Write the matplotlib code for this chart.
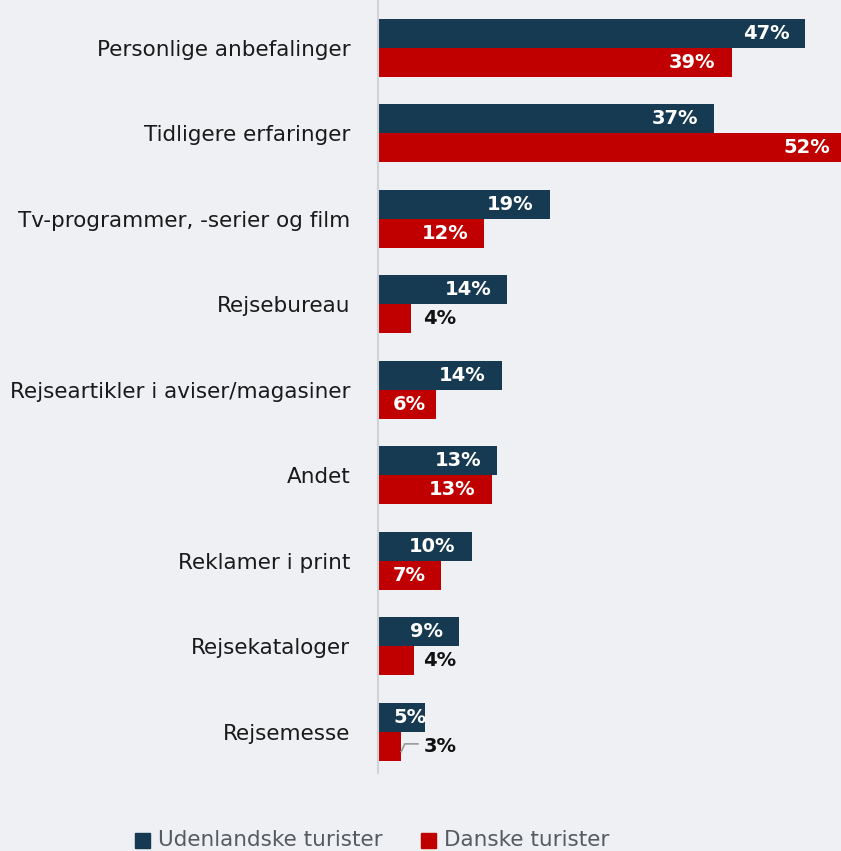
import matplotlib
matplotlib.use("Agg")
import matplotlib.pyplot as plt
from matplotlib.patches import Rectangle

categories = ["Personlige anbefalinger", "Tidligere erfaringer", "Tv-programmer, -serier og film",
              "Rejsebureau", "Rejseartikler i aviser/magasiner", "Andet", "Reklamer i print",
              "Rejsekataloger", "Rejsemesse"]
# bar lengths (percent)
udenlandske = [47.0, 37.0, 18.9, 14.2, 13.6, 13.1, 10.3, 8.9, 5.2]
danske = [38.9, 52.0, 11.7, 3.6, 6.4, 12.5, 6.9, 4.0, 2.5]
# printed labels (percent)
udenlandske_labels = [47, 37, 19, 14, 14, 13, 10, 9, 5]
danske_labels = [39, 52, 12, 4, 6, 13, 7, 4, 3]
series_names = ["Udenlandske turister", "Danske turister"]

NAVY = "#163a52"
RED = "#c00000"
BG = "#eef0f3"
FONT = "DejaVu Sans"

W, H = 841, 851
fig = plt.figure(figsize=(W / 100, H / 100), dpi=100)
fig.patch.set_facecolor(BG)
ax = fig.add_axes([378 / W, 1 - 773 / H, 1 - 378 / W, 773 / H])
ax.set_facecolor(BG)

h = 0.339
ys = list(range(len(categories)))
ax.barh([y - h / 2 for y in ys], udenlandske, height=h, color=NAVY, edgecolor="none")
ax.barh([y + h / 2 for y in ys], danske, height=h, color=RED, edgecolor="none")

xmax = (W - 378) / 9.09
ax.set_xlim(0, xmax)
ax.set_ylim(8.48, -0.561)
for s in ["top", "right", "bottom"]:
    ax.spines[s].set_visible(False)
ax.spines["left"].set_color("#cfd3d7")
ax.spines["left"].set_linewidth(1.5)
ax.set_xticks([])
ax.set_yticks(ys)
ax.set_yticklabels(categories, fontsize=15.5, color="#1a1a1a", family=FONT)
ax.tick_params(axis="y", length=0, pad=20)

LBL = dict(fontsize=14, fontweight="bold", family=FONT, va="center")

def label(v, lab, y):
    txt = f"{lab}%"
    if lab < 5:
        ax.text(5.0, y, txt, ha="left", color="#111111", **LBL)
        return
    right = min(v - 1.76, xmax - 1.2)
    width = 4.1 if lab < 10 else 5.6
    if right - width < 1.65:
        ax.text(1.65, y, txt, ha="left", color="white", **LBL)
    else:
        ax.text(right, y, txt, ha="right", color="white", **LBL)

for y, v, lab in zip(ys, udenlandske, udenlandske_labels):
    label(v, lab, y - h / 2)
for y, v, lab in zip(ys, danske, danske_labels):
    label(v, lab, y + h / 2)

# leader line for the smallest label
yl = ys[-1] + h / 2
ax.plot([danske[-1] + 0.05, danske[-1] + 0.45, danske[-1] + 1.9],
        [yl + 0.06, yl - 0.03, yl - 0.03], color="#9a9a9a", lw=1.2)

# legend
fig.patches.append(Rectangle((135 / W, 1 - 848 / H), 15 / W, 15 / H, color=NAVY,
                             transform=fig.transFigure, figure=fig))
fig.text(158 / W, 1 - 840 / H, series_names[0], ha="left", va="center", fontsize=15.5,
         color="#555b60", family=FONT)
fig.patches.append(Rectangle((421 / W, 1 - 848 / H), 15 / W, 15 / H, color=RED,
                             transform=fig.transFigure, figure=fig))
fig.text(444 / W, 1 - 840 / H, series_names[1], ha="left", va="center", fontsize=15.5,
         color="#555b60", family=FONT)

fig.savefig("out.png", dpi=100, facecolor=BG)
